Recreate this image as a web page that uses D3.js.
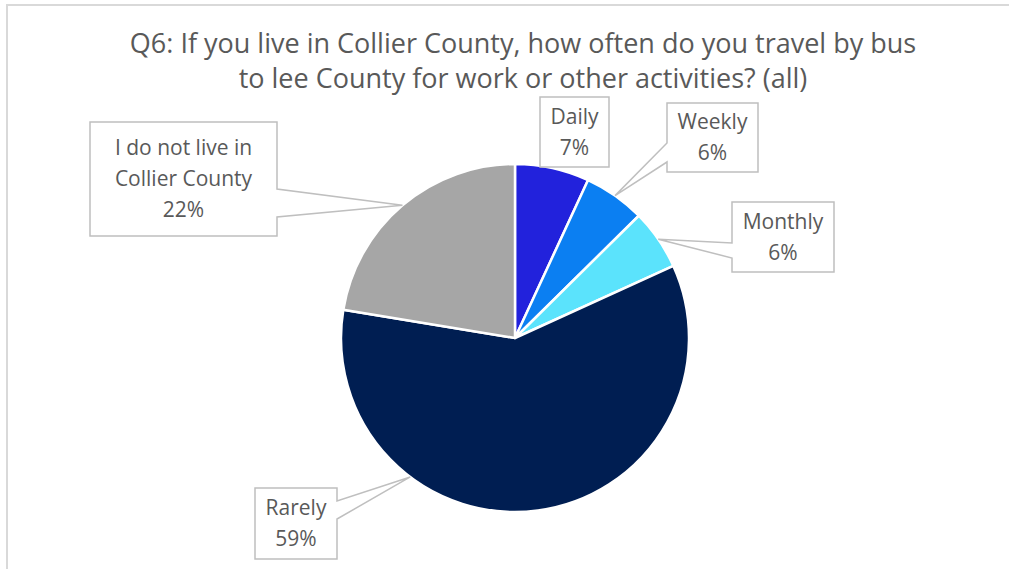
<!DOCTYPE html>
<html><head><meta charset="utf-8">
<script src="https://cdn.jsdelivr.net/npm/d3@7"></script>
<style>
html,body{margin:0;padding:0;background:#fff;}
svg text{font-family:"Open Sans",sans-serif;fill:#595959;}
</style></head>
<body><svg id="c" width="1009" height="569"></svg>
<script>
const categories = ["Daily", "Weekly", "Monthly", "Rarely", "I do not live in Collier County"];
const values = [6.9, 5.7, 5.6, 59.4, 22.4];
const labelLines = [["Daily"], ["Weekly"], ["Monthly"], ["Rarely"], ["I do not live in", "Collier County"]];
const colors = ["#2222DC", "#0B7FF2", "#5BE3FC", "#001E52", "#A6A6A6"];
const titleLines = ["Q6: If you live in Collier County, how often do you travel by bus", "to lee County for work or other activities? (all)"];

const svg = d3.select("#c");
// frame
svg.append("line").attr("x1",7).attr("x2",1009).attr("y1",5).attr("y2",5).attr("stroke","#d9d9d9").attr("stroke-width",2);
svg.append("line").attr("x1",7).attr("x2",7).attr("y1",4).attr("y2",569).attr("stroke","#d9d9d9").attr("stroke-width",2);

const title = svg.append("text").attr("text-anchor","middle").style("font-size","27px");
titleLines.forEach((t,i)=>title.append("tspan").attr("x",523).attr("y",53+i*35).text(t));

const cx = 515, cy = 338, r = 174;
const pie = d3.pie().sort(null).value(d=>d)(values);
const arc = d3.arc().innerRadius(0).outerRadius(r);
const g = svg.append("g").attr("transform",`translate(${cx},${cy})`);
g.selectAll("path").data(pie).join("path")
  .attr("d",arc).attr("fill",(d,i)=>colors[i])
  .attr("stroke","#fff").attr("stroke-width",2.5).attr("stroke-linejoin","round");

// callout layout: box [x0,y0,x1,y1], side of wedge, base y's, optional tip angle
const callouts = [
  {box:[540,97,609,167], side:null},
  {box:[667,103,758,172], side:"left", base:[143,162]},
  {box:[732,202,834,272], side:"left", base:[243,258]},
  {box:[255,488,337,559], side:"right", base:[501,519], tipAngle:217},
  {box:[90,122,277,236], side:"right", base:[189,217]}
];
pie.forEach((d,i)=>{
  const c = callouts[i];
  const [x0,y0,x1,y1] = c.box;
  let p;
  if(c.side){
    const a = c.tipAngle!=null ? c.tipAngle*Math.PI/180 : (d.startAngle+d.endAngle)/2;
    const tx = cx + r*Math.sin(a), ty = cy - r*Math.cos(a);
    if(c.side==="right"){
      p = `M${x0},${y0}H${x1}V${c.base[0]}L${tx},${ty}L${x1},${c.base[1]}V${y1}H${x0}Z`;
    } else {
      p = `M${x0},${y0}H${x1}V${y1}H${x0}V${c.base[1]}L${tx},${ty}L${x0},${c.base[0]}Z`;
    }
  } else {
    p = `M${x0},${y0}H${x1}V${y1}H${x0}Z`;
  }
  svg.append("path").attr("d",p).attr("fill","#fff").attr("stroke","#bfbfbf").attr("stroke-width",1.5);
  const lines = labelLines[i].concat([Math.round(values[i])+"%"]);
  const lh = 31;
  const mx = (x0+x1)/2, my = (y0+y1)/2;
  const t = svg.append("text").attr("text-anchor","middle").style("font-size","21px");
  lines.forEach((s,j)=>t.append("tspan").attr("x",mx).attr("y",my + (j-(lines.length-1)/2)*lh + 7).text(s));
});
</script></body></html>
